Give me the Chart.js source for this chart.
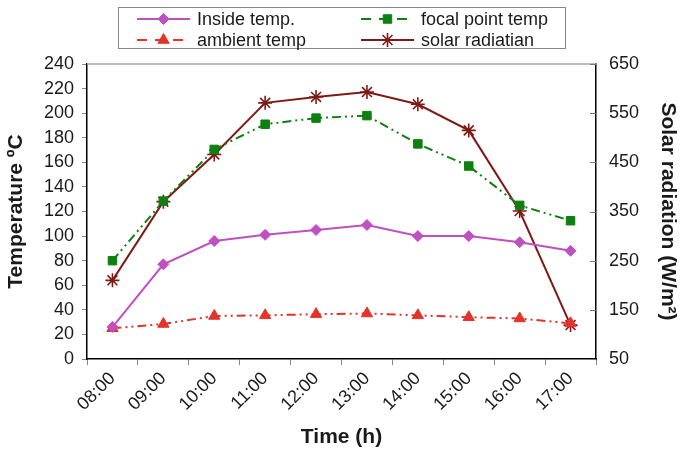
<!DOCTYPE html>
<html>
<head>
<meta charset="utf-8">
<script src="https://cdn.jsdelivr.net/npm/chart.js@4.4.0/dist/chart.umd.min.js"></script>
<style>
html,body{margin:0;padding:0;background:#fff;}
#wrap{width:680px;height:450px;position:relative;}
</style>
</head>
<body>
<div id="wrap"><canvas id="c" width="680" height="450"></canvas></div>
<script>
const categories = ['08:00','09:00','10:00','11:00','12:00','13:00','14:00','15:00','16:00','17:00'];
const insideTemp = [26, 77, 96, 101, 105, 109, 100, 100, 95, 88];
const ambientTemp = [25, 28.5, 35, 35.5, 36.5, 37, 35.5, 34, 33, 29];
const focalTemp = [80, 128.5, 170.5, 191, 196, 198, 175, 157, 125, 112.5];
const solarRad = [210, 370, 466, 571, 583, 593, 568, 515, 351, 119];
const tempAxis = {min: 0, max: 240, step: 20};
const solarAxis = {min: 50, max: 650, step: 100};

const FONT = 'Liberation Sans, Arial, Helvetica, sans-serif';
const TICK_SIZE = 18;
const TITLE_SIZE = 21;
const DASH = [9, 4, 2, 4, 2, 4];

const series = [
  {label: 'Inside temp.', data: insideTemp, color: '#C04FC0', style: 'rectRot', r: 5.5, dash: [], axis: 'y'},
  {label: 'focal point temp', data: focalTemp, color: '#0F7F12', style: 'rect', r: 6, dash: DASH, axis: 'y'},
  {label: 'ambient temp', data: ambientTemp, color: '#E3332A', style: 'triangle', r: 6.5, dash: DASH, axis: 'y'},
  {label: 'solar radiatian', data: solarRad, color: '#7E1A16', style: 'star', r: 7, dash: [], axis: 'y1'}
];

const legendPlugin = {
  id: 'customLegend',
  afterDraw(chart) {
    const ctx = chart.ctx;
    const ca = chart.chartArea;
    ctx.save();
    // top border of plot area
    ctx.strokeStyle = '#AAAAAA';
    ctx.lineWidth = 1.5;
    ctx.beginPath(); ctx.moveTo(ca.left, ca.top); ctx.lineTo(ca.right, ca.top); ctx.stroke();
    // right axis inward ticks
    const y1 = chart.scales.y1;
    ctx.strokeStyle = '#777';
    ctx.lineWidth = 1;
    y1.ticks.forEach((t, i) => {
      const yy = Math.round(y1.getPixelForTick(i)) + 0.5;
      ctx.beginPath(); ctx.moveTo(ca.right - 6, yy); ctx.lineTo(ca.right, yy); ctx.stroke();
    });
    // legend box
    ctx.strokeStyle = '#888';
    ctx.lineWidth = 1;
    ctx.strokeRect(118.5, 7.5, 447, 41);
    const pos = [[137, 19, 197], [361, 19, 421], [137, 40, 197], [361, 40, 421]];
    series.forEach((s, i) => {
      const [x0, y, tx] = pos[i];
      ctx.strokeStyle = s.color;
      ctx.lineWidth = 2;
      ctx.setLineDash(s.dash.length ? [10, 8] : []);
      ctx.beginPath(); ctx.moveTo(x0, y); ctx.lineTo(x0 + 53, y); ctx.stroke();
      ctx.setLineDash([]);
      ctx.fillStyle = s.color;
      ctx.strokeStyle = s.color;
      ctx.lineWidth = s.style === 'star' ? 1.6 : 1;
      Chart.helpers.drawPoint(ctx, {pointStyle: s.style, radius: s.r, rotation: 0, borderWidth: ctx.lineWidth}, x0 + 26.5, y);
      ctx.fillStyle = '#1a1a1a';
      ctx.font = TICK_SIZE + 'px ' + FONT;
      ctx.textBaseline = 'middle';
      ctx.textAlign = 'left';
      ctx.fillText(s.label, tx, y + 1);
    });
    ctx.restore();
  }
};

new Chart(document.getElementById('c'), {
  type: 'line',
  data: {
    labels: categories,
    datasets: series.map(s => ({
      label: s.label,
      data: s.data,
      yAxisID: s.axis,
      borderColor: s.color,
      backgroundColor: s.color,
      pointBackgroundColor: s.color,
      pointBorderColor: s.color,
      pointStyle: s.style,
      pointRadius: s.r,
      pointBorderWidth: s.style === 'star' ? 1.6 : 1,
      borderWidth: 2,
      borderDash: s.dash,
      tension: 0,
      fill: false
    }))
  },
  options: {
    responsive: false,
    animation: false,
    devicePixelRatio: 1,
    layout: {padding: {top: 64, left: 0, right: 0, bottom: 0}},
    plugins: {legend: {display: false}, tooltip: {enabled: false}},
    scales: {
      x: {
        offset: true,
        grid: {offset: true, drawOnChartArea: false, tickLength: 6, color: '#888'},
        border: {display: true, color: '#000', width: 1.5},
        ticks: {autoSkip: false, minRotation: 45, maxRotation: 45, padding: 3, color: '#1a1a1a', font: {size: TICK_SIZE, family: FONT}},
        title: {display: true, text: 'Time (h)', color: '#1a1a1a', font: {size: TITLE_SIZE, weight: 'bold', family: FONT}, padding: {top: 0, bottom: 0}},
        afterFit(s) { s.height = 91; }
      },
      y: {
        position: 'left',
        min: tempAxis.min, max: tempAxis.max,
        grid: {drawOnChartArea: false, tickLength: 5, color: '#888'},
        border: {display: true, color: '#000', width: 1.5},
        ticks: {autoSkip: false, stepSize: tempAxis.step, padding: 8, color: '#1a1a1a', font: {size: TICK_SIZE, family: FONT}},
        title: {display: true, text: 'Temperature ºC', color: '#1a1a1a', font: {size: TITLE_SIZE, weight: 'bold', family: FONT}, padding: {top: 4, bottom: 0}},
        afterFit(s) { s.width = 87; }
      },
      y1: {
        position: 'right',
        min: solarAxis.min, max: solarAxis.max,
        grid: {drawOnChartArea: false, drawTicks: false},
        border: {display: true, color: '#000', width: 1.5},
        ticks: {autoSkip: false, stepSize: solarAxis.step, padding: 13, color: '#1a1a1a', font: {size: TICK_SIZE, family: FONT}},
        title: {display: true, text: 'Solar radiation (W/m²)', color: '#1a1a1a', font: {size: TITLE_SIZE, weight: 'bold', family: FONT}, padding: {top: 0, bottom: 4}},
        afterFit(s) { s.width = 84; }
      }
    }
  },
  plugins: [legendPlugin]
});
</script>
</body>
</html>
